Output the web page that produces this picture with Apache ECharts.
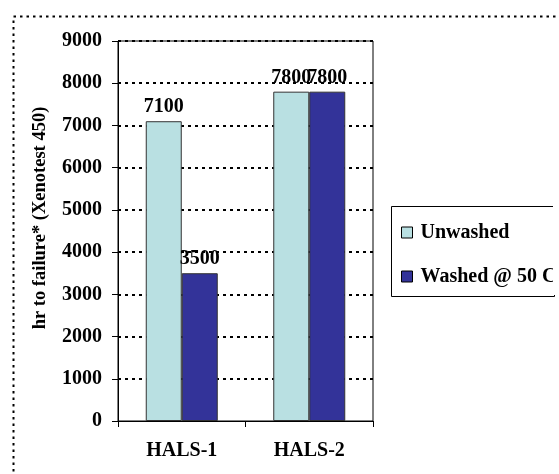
<!DOCTYPE html>
<html>
<head>
<meta charset="utf-8">
<script src="https://cdn.jsdelivr.net/npm/echarts@6/dist/echarts.min.js"></script>
<style>
html,body{margin:0;padding:0;background:#fff;}
#c{width:559px;height:474px;}
</style>
</head>
<body>
<div id="c"></div>
<script>
const categories = ['HALS-1', 'HALS-2'];
const seriesNames = ['Unwashed', 'Washed @ 50 C'];
const unwashed = [7100, 7800];
const washed = [3500, 7800];
const yTicks = [0, 1000, 2000, 3000, 4000, 5000, 6000, 7000, 8000, 9000];

const FONT = '"Liberation Serif", "Times New Roman", serif';
const FS = 20;
const chart = echarts.init(document.getElementById('c'), null, {renderer: 'canvas'});
const labelStyle = {show: true, position: 'top', distance: 4, color: '#000', fontFamily: FONT, fontWeight: 'bold', fontSize: FS};
chart.setOption({
  animation: false,
  backgroundColor: '#fff',
  textStyle: {fontFamily: FONT},
  grid: {left: 118, right: 186, top: 41, bottom: 53, show: true, borderColor: '#000', borderWidth: 1, backgroundColor: 'transparent'},
  legend: {
    orient: 'vertical', left: 396, top: 217, itemWidth: 11, itemHeight: 11, itemGap: 23,
    icon: 'rect',
    textStyle: {fontFamily: FONT, fontWeight: 'bold', fontSize: FS, color: '#000', lineHeight: 21, padding: [0, 0, 0, 3]},
    itemStyle: {borderColor: '#000', borderWidth: 1},
    data: seriesNames
  },
  xAxis: {
    type: 'category', data: categories, z: 5,
    axisLine: {lineStyle: {color: '#000', width: 1}},
    axisTick: {show: true, length: 6, lineStyle: {color: '#000'}},
    axisLabel: {color: '#000', fontFamily: FONT, fontWeight: 'bold', fontSize: FS, margin: 20}
  },
  yAxis: {
    type: 'value', min: yTicks[0], max: yTicks[yTicks.length - 1], interval: yTicks[1] - yTicks[0],
    name: 'hr to failure* (Xenotest 450)', nameLocation: 'middle', nameGap: 68, nameRotate: 90,
    nameTextStyle: {color: '#000', fontFamily: FONT, fontWeight: 'bold', fontSize: 18.5, padding: [0, 0, 0, 26]},
    axisLine: {show: true, lineStyle: {color: '#000', width: 1}},
    axisTick: {show: true, length: 6, lineStyle: {color: '#000'}},
    axisLabel: {color: '#000', fontFamily: FONT, fontWeight: 'bold', fontSize: FS, margin: 16, formatter: v => String(v)},
    splitLine: {show: true, showMinLine: false, lineStyle: {color: '#000', width: 2, type: [3, 4]}}
  },
  graphic: [
    {type: 'rect', left: 389, top: 204, shape: {width: 163, height: 90}, style: {fill: 'none', stroke: '#000', lineWidth: 1}, z: 10},
    {type: 'rect', left: 553, top: 204, shape: {width: 10, height: 91}, style: {fill: '#fff'}, z: 11},
    {type: 'rect', left: 11, top: 14, shape: {width: 700, height: 600}, style: {fill: 'none', stroke: '#000', lineWidth: 2, lineDash: [2.5, 4]}, z: 10}
  ],
  series: [
    {name: seriesNames[0], type: 'bar', data: unwashed, barWidth: 36, barGap: '0%',
      itemStyle: {color: '#B9E0E2', borderColor: '#333', borderWidth: 1}, label: labelStyle},
    {name: seriesNames[1], type: 'bar', data: washed, barWidth: 36, barGap: '0%',
      itemStyle: {color: '#333399', borderColor: '#333', borderWidth: 1}, label: labelStyle}
  ]
});
</script>
</body>
</html>
